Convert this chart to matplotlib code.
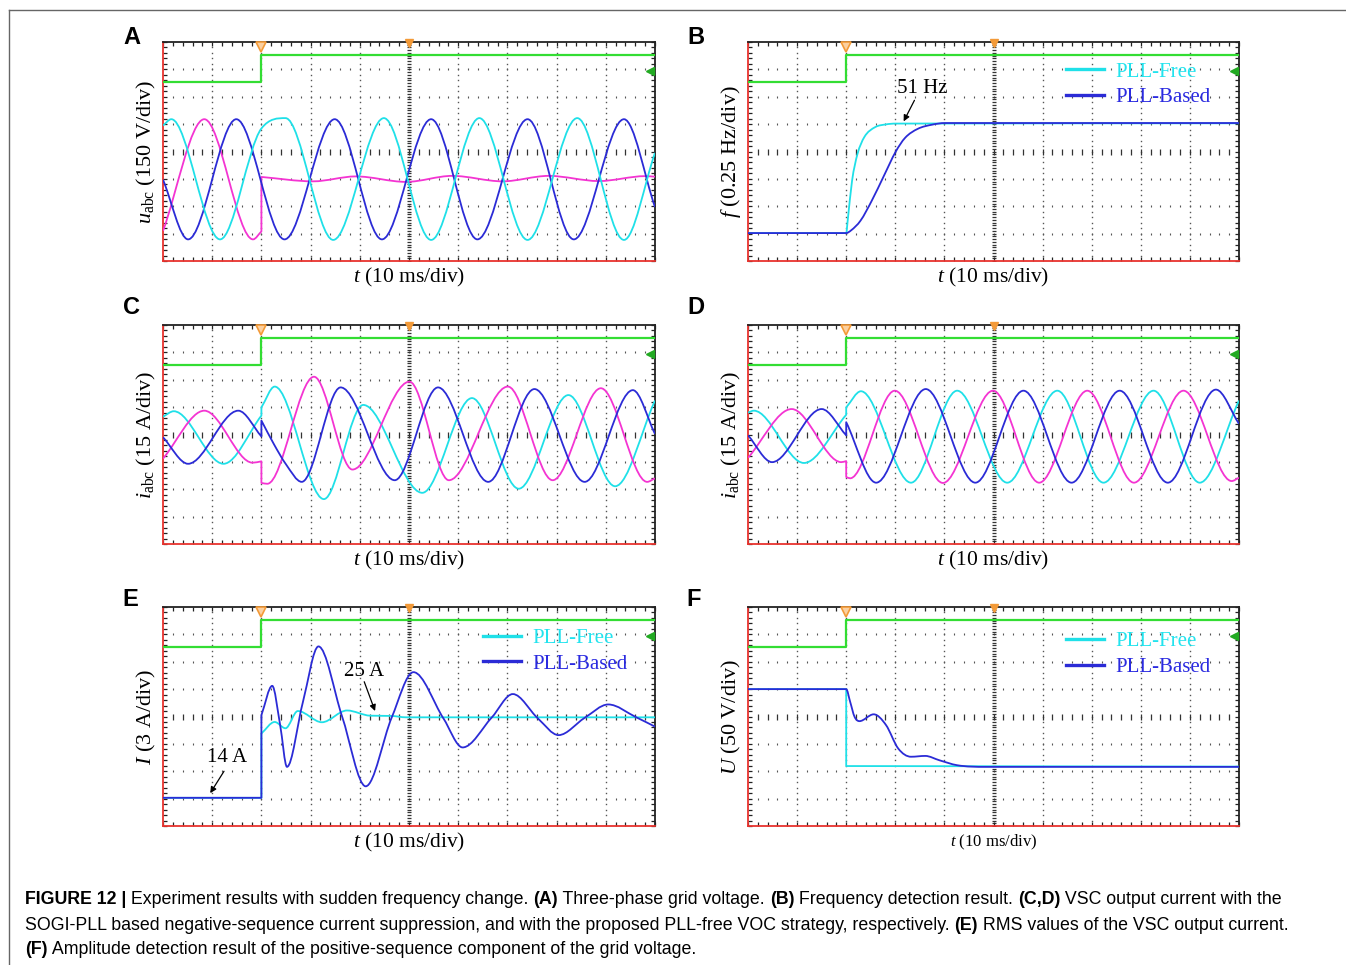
import numpy as np
import matplotlib
matplotlib.use('Agg')
matplotlib.rcParams.update({
    'font.family': 'Liberation Serif',
    'mathtext.fontset': 'custom',
    'mathtext.rm': 'Liberation Serif',
    'mathtext.it': 'Liberation Serif:italic',
})
import matplotlib.pyplot as plt
from matplotlib.path import Path
from matplotlib.patches import PathPatch
from matplotlib.lines import Line2D
from matplotlib.ticker import MultipleLocator, NullLocator

# colours picked off the scope screenshots
CYAN, BLUE, PINK, GREEN = '#1fe0e8', '#2b2bd6', '#f434d2', '#33dd33'
CYAN_TXT, BLUE_TXT = '#22e3ee', '#2a2ae0'
RED_EDGE, ORANGE = '#e8332e', '#f39a38'
GRID = '#555555'

# time / amplitude in scope divisions (10 x 8 grid)
TRIG_T = [0, 2.0, 2.0, 10]
TRIG_V = [6.53, 6.53, 7.53, 7.53]

# (A) grid voltage
A_CYAN_T = [0, 0.17, 1.16, 2.0, 2.49, 3.46, 4.49, 5.45, 6.43, 7.41, 8.42, 9.37, 10]
A_CYAN_V = [4.95, 5.18, 0.79, 4.84, 5.22, 0.77, 5.22, 0.77, 5.22, 0.77, 5.22, 0.77, 3.95]
A_BLUE_T = [0, 0.51, 1.49, 2.47, 3.49, 4.45, 5.45, 6.39, 7.41, 8.35, 9.37, 10]
A_BLUE_V = [2.97, 0.79, 5.18, 0.79, 5.18, 0.79, 5.18, 0.79, 5.18, 0.79, 5.18, 1.97]
A_PINK_T = [0, 0.84, 1.83, 2.0, 2.0, 3.05, 3.92, 4.94, 5.88, 6.9, 7.84, 8.86, 9.8, 10]
A_PINK_V = [1.1, 5.18, 0.79, 1.08, 3.07, 2.91, 3.09, 2.89, 3.11, 2.91, 3.11, 2.92, 3.1, 3.08]

# (B) frequency
B_FREE_T = [0, 2.0, 2.03, 2.12, 2.23, 2.37, 2.59, 2.81, 3.01, 10]
B_FREE_V = [1.02, 1.02, 1.47, 2.94, 3.91, 4.53, 4.89, 4.99, 5.02, 5.03]
B_BASED_T = [0, 2.0, 2.1, 2.29, 2.52, 2.77, 3.01, 3.2, 3.46, 3.75, 4.01, 10]
B_BASED_V = [1.02, 1.02, 1.12, 1.47, 2.2, 3.12, 4.0, 4.5, 4.83, 4.98, 5.04, 5.04]

# (C) output current, SOGI-PLL based
C_CYAN_T = [0, 0.22, 1.23, 2.0, 2.0, 2.27, 3.27, 4.07, 5.27, 6.28, 7.23, 8.24, 9.19, 10]
C_CYAN_V = [4.65, 4.85, 2.93, 4.69, 4.99, 5.75, 1.64, 5.08, 1.87, 5.33, 2.02, 5.44, 2.11, 5.24]
C_BLUE_T = [0, 0.51, 1.53, 2.0, 2.0, 2.25, 2.5, 2.82, 3.61, 4.71, 5.59, 6.61, 7.55, 8.57, 9.55, 10]
C_BLUE_V = [3.9, 2.93, 4.87, 3.93, 4.51, 3.66, 2.91, 2.27, 5.72, 2.33, 5.72, 2.27, 5.66, 2.27, 5.62, 4.02]
C_PINK_T = [0, 0.84, 1.82, 2.0, 2.0, 2.12, 3.07, 3.85, 5.01, 5.81, 7.01, 7.92, 8.9, 9.84, 10]
C_PINK_V = [3.12, 4.87, 2.97, 3.02, 2.23, 2.2, 6.11, 2.72, 5.93, 2.33, 5.75, 2.33, 5.69, 2.27, 2.4]

# (D) output current, PLL-free VOC
D_CYAN_T = [0, 0.12, 1.14, 2.0, 2.0, 2.3, 3.32, 4.26, 5.28, 6.3, 7.24, 8.26, 9.2, 10]
D_CYAN_V = [4.8, 4.87, 2.96, 4.72, 4.99, 5.58, 2.24, 5.6, 2.24, 5.6, 2.24, 5.6, 2.24, 5.24]
D_BLUE_T = [0, 0.49, 1.5, 2.0, 2.0, 2.61, 3.62, 4.63, 5.61, 6.59, 7.57, 8.55, 9.53, 10]
D_BLUE_V = [3.97, 2.99, 4.93, 3.97, 4.45, 2.24, 5.66, 2.24, 5.6, 2.24, 5.6, 2.24, 5.64, 4.39]
D_PINK_T = [0, 0.89, 1.9, 2.0, 2.0, 2.08, 2.99, 3.97, 4.99, 5.93, 6.91, 7.86, 8.87, 9.85, 10]
D_PINK_V = [3.15, 4.93, 2.99, 3.03, 2.45, 2.4, 5.6, 2.23, 5.6, 2.24, 5.6, 2.24, 5.6, 2.3, 2.42]

# (E) RMS current
E_FREE_T = [0, 2.0, 2.0, 2.27, 2.49, 2.74, 3.23, 3.74, 4.21, 4.65, 4.94, 10]
E_FREE_V = [1.03, 1.03, 3.38, 3.8, 3.57, 4.2, 3.79, 4.22, 4.03, 4.02, 3.97, 3.97]
E_BASED_T = [0, 2.0, 2.0, 2.22, 2.38, 2.52, 2.84, 3.16, 3.64, 4.12, 4.65, 5.09, 5.7, 6.09,
             6.68, 7.11, 7.62, 8.04, 8.57, 9.05, 9.62, 10]
E_BASED_V = [1.03, 1.03, 4.05, 5.12, 3.7, 2.16, 4.5, 6.56, 4.0, 1.45, 3.97, 5.62, 3.93, 2.87,
             3.96, 4.82, 3.93, 3.32, 3.95, 4.44, 3.97, 3.63]

# (F) positive-sequence amplitude
F_FREE_T = [0, 2.0, 2.0, 10]
F_FREE_V = [5.0, 5.0, 2.19, 2.17]
F_BASED_T = [0, 2.0, 2.08, 2.17, 2.27, 2.56, 2.81, 3.06, 3.32, 3.61, 3.9, 4.26, 4.84, 10]
F_BASED_V = [5.0, 5.0, 4.54, 3.99, 3.83, 4.08, 3.69, 2.83, 2.53, 2.56, 2.4, 2.22, 2.16, 2.16]


def knot_slopes(t, v):
    n = len(t)
    if n < 2:
        return [0.0] * n
    d = [(v[i + 1] - v[i]) / (t[i + 1] - t[i]) for i in range(n - 1)]
    s = [d[0]] + [0.0] * (n - 2) + [d[-1]]
    for i in range(1, n - 1):
        if d[i - 1] * d[i] <= 0:
            s[i] = 0.0  # local extremum -> flat
        else:
            m = 0.5 * (d[i - 1] + d[i])
            lim = 3 * min(abs(d[i - 1]), abs(d[i]))
            s[i] = np.sign(m) * min(abs(m), lim)
    return s


def trace_path(ts, vs):
    """Bezier path through the read points; repeated t means a vertical jump."""
    pieces, start = [], 0
    for i in range(1, len(ts)):
        if ts[i] == ts[i - 1]:
            pieces.append((ts[start:i], vs[start:i]))
            start = i
    pieces.append((ts[start:], vs[start:]))
    verts, codes = [], []
    for k, (pt, pv) in enumerate(pieces):
        sl = knot_slopes(pt, pv)
        verts.append((pt[0], pv[0]))
        codes.append(Path.MOVETO if k == 0 else Path.LINETO)
        for i in range(len(pt) - 1):
            h = pt[i + 1] - pt[i]
            verts += [(pt[i] + h / 3, pv[i] + sl[i] * h / 3),
                      (pt[i + 1] - h / 3, pv[i + 1] - sl[i + 1] * h / 3),
                      (pt[i + 1], pv[i + 1])]
            codes += [Path.CURVE4] * 3
    return Path(verts, codes)


def draw_trace(ax, ts, vs, color, lw=1.3):
    ax.add_patch(PathPatch(trace_path(ts, vs), fill=False, edgecolor=color,
                           lw=lw, joinstyle='round', zorder=4))


def scope_axes(fig, px, letter, ylabel, xlabel_size=15.5):
    # px = (left, top, right, bottom) in image pixels
    W, H = 1346, 965
    l, t, r, b = px
    ax = fig.add_axes([l / W, 1 - b / H, (r - l) / W, (b - t) / H])
    ax.set_xlim(0, 10)
    ax.set_ylim(0, 8)
    for name, sp in ax.spines.items():
        sp.set_linewidth(1.3)
        sp.set_color(RED_EDGE if name in ('left', 'bottom') else '#222222')
    for axis in (ax.xaxis, ax.yaxis):
        axis.set_major_locator(NullLocator())
        axis.set_minor_locator(MultipleLocator(0.2))
    ax.tick_params(which='minor', direction='in', length=3, width=0.9,
                   color='#222222', top=True, right=True,
                   labelbottom=False, labelleft=False)

    # graticule: dotted divisions, ticked centre lines
    xs = np.arange(0.2, 10, 0.2)
    ys = np.arange(0.2, 8, 0.2)
    for gx in range(1, 10):
        if gx != 5:
            ax.plot(np.full(len(ys), gx), ys, ls='none', marker='s', ms=1.0,
                    mew=0, color=GRID, zorder=1)
    for gy in range(1, 8):
        if gy != 4:
            ax.plot(xs, np.full(len(xs), gy), ls='none', marker='|', ms=2.0,
                    mew=0.8, color=GRID, zorder=1)
    ax.plot(np.full(80, 5.0), np.arange(0, 8, 0.1), ls='none', marker='_',
            ms=3.0, mew=0.9, color='#333333', zorder=1)
    ax.plot(xs, np.full(len(xs), 4.0), ls='none', marker='|', ms=4.0,
            mew=0.9, color='#333333', zorder=1)

    # trigger trace and scope markers
    ax.plot(TRIG_T, TRIG_V, color=GREEN, lw=1.6, zorder=3)
    ax.plot([2.0], [7.82], marker='v', ms=7, mfc='#fbd0a0', mec=ORANGE,
            mew=1.2, clip_on=False, zorder=5)
    ax.plot([5.0], [7.95], marker='v', ms=6, color=ORANGE, clip_on=False, zorder=5)
    ax.plot([9.9], [6.95], marker='<', ms=6, color='#22aa22', clip_on=False, zorder=5)

    ax.set_xlabel(r'$t$ (10 ms/div)', fontsize=xlabel_size, va='center')
    ax.xaxis.set_label_coords(0.5, -16 / (b - t))
    ax.set_ylabel(ylabel, fontsize=16, va='center')
    ax.yaxis.set_label_coords(-17 / (r - l), 0.5)

    lx, ly = letter[1]
    fig.text(lx / W, 1 - ly / H, letter[0], family='Liberation Sans',
             fontweight='bold', fontsize=17, ha='center', va='center')
    return ax


def add_legend(ax, anchor):
    handles = [Line2D([], [], color=CYAN, lw=2.4), Line2D([], [], color=BLUE, lw=2.4)]
    ax.legend(handles, ['PLL-Free', 'PLL-Based'], loc='center left',
              bbox_to_anchor=anchor, frameon=False, fontsize=15,
              handlelength=1.8, handletextpad=0.55, labelspacing=0.3,
              borderpad=0, borderaxespad=0, labelcolor=[CYAN_TXT, BLUE_TXT])


def arrow(ax, start, end):
    ax.annotate('', xy=end, xytext=start, zorder=6,
                arrowprops=dict(arrowstyle='-|>', lw=0.9, color='black',
                                mutation_scale=9, shrinkA=0, shrinkB=0))


def rich_line(fig, x, y, parts, size):
    renderer = fig.canvas.get_renderer()
    for txt, bold in parts:
        t = fig.text(x, y, txt, family='Liberation Sans', fontsize=size,
                     fontweight='bold' if bold else 'normal', va='center')
        x += t.get_window_extent(renderer).width / fig.bbox.width


fig = plt.figure(figsize=(13.46, 9.65), dpi=100)

axA = scope_axes(fig, (163, 42, 655, 261), ('A', (132, 37)),
                 r'$u_{\mathrm{abc}}$ (150 V/div)')
draw_trace(axA, A_PINK_T, A_PINK_V, PINK)
draw_trace(axA, A_BLUE_T, A_BLUE_V, BLUE)
draw_trace(axA, A_CYAN_T, A_CYAN_V, CYAN)

axB = scope_axes(fig, (748, 42, 1239, 261), ('B', (696, 37)),
                 r'$f$ (0.25 Hz/div)')
draw_trace(axB, B_FREE_T, B_FREE_V, CYAN)
draw_trace(axB, B_BASED_T, B_BASED_V, BLUE)
axB.text(3.54, 6.3, '51 Hz', fontsize=15, ha='center', va='center')
arrow(axB, (3.39, 5.87), (3.17, 5.1))
add_legend(axB, (0.648, 0.805))

axC = scope_axes(fig, (163, 325, 655, 544), ('C', (132, 308)),
                 r'$i_{\mathrm{abc}}$ (15 A/div)')
draw_trace(axC, C_CYAN_T, C_CYAN_V, CYAN)
draw_trace(axC, C_PINK_T, C_PINK_V, PINK)
draw_trace(axC, C_BLUE_T, C_BLUE_V, BLUE)

axD = scope_axes(fig, (748, 325, 1239, 544), ('D', (696, 308)),
                 r'$i_{\mathrm{abc}}$ (15 A/div)')
draw_trace(axD, D_CYAN_T, D_CYAN_V, CYAN)
draw_trace(axD, D_PINK_T, D_PINK_V, PINK)
draw_trace(axD, D_BLUE_T, D_BLUE_V, BLUE)

axE = scope_axes(fig, (163, 607, 655, 826), ('E', (130, 600)),
                 r'$I$ (3 A/div)')
draw_trace(axE, E_FREE_T, E_FREE_V, CYAN)
draw_trace(axE, E_BASED_T, E_BASED_V, BLUE)
axE.text(1.31, 2.5, '14 A', fontsize=15, ha='center', va='center')
arrow(axE, (1.24, 2.0), (0.96, 1.2))
axE.text(4.09, 5.64, '25 A', fontsize=15, ha='center', va='center')
arrow(axE, (4.09, 5.27), (4.31, 4.2))
add_legend(axE, (0.651, 0.799))

axF = scope_axes(fig, (748, 607, 1239, 826), ('F', (694, 600)),
                 r'$U$ (50 V/div)', xlabel_size=12)
draw_trace(axF, F_FREE_T, F_FREE_V, CYAN)
draw_trace(axF, F_BASED_T, F_BASED_V, BLUE)
add_legend(axF, (0.648, 0.784))

# thin page frame
fig.add_artist(Line2D([9 / 1346, 9 / 1346], [0, 1 - 10 / 965], color='#666666', lw=1))
fig.add_artist(Line2D([9 / 1346, 1], [1 - 10 / 965, 1 - 10 / 965], color='#666666', lw=1))

CAP = 12.8
rich_line(fig, 25 / 1346, 1 - 900 / 965, [
    ('FIGURE 12 |', True), (' Experiment results with sudden frequency change. ', False),
    ('(A)', True), (' Three-phase grid voltage. ', False), ('(B)', True),
    (' Frequency detection result. ', False), ('(C,D)', True),
    (' VSC output current with the', False)], CAP)
rich_line(fig, 25 / 1346, 1 - 925 / 965, [
    ('SOGI-PLL based negative-sequence current suppression, and with the proposed '
     'PLL-free VOC strategy, respectively. ', False), ('(E)', True),
    (' RMS values of the VSC output current.', False)], CAP)
rich_line(fig, 25 / 1346, 1 - 950 / 965, [
    ('(F)', True), (' Amplitude detection result of the positive-sequence component '
                    'of the grid voltage.', False)], CAP)

fig.savefig('out.png', dpi=100)
